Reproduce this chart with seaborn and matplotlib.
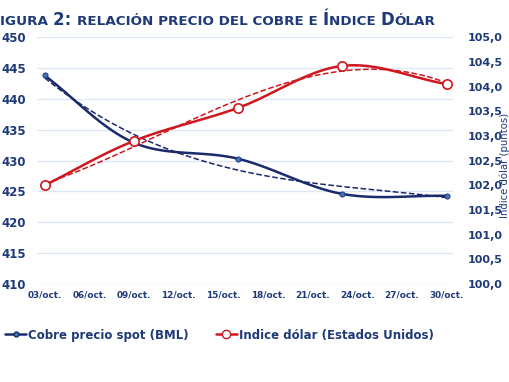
import numpy as np
import matplotlib
matplotlib.use('Agg')
import matplotlib.pyplot as plt
import matplotlib.transforms as mtransforms
from matplotlib.lines import Line2D
import seaborn as sns

# datos (dia de octubre)
dias = [3, 9, 16, 23, 30]
cobre = [443.8, 432.9, 430.3, 424.6, 424.3]
dolar = [102.0, 102.9, 103.57, 104.42, 104.05]
tick_dias = [3, 6, 9, 12, 15, 18, 21, 24, 27, 30]
tick_labels = ['03/oct.', '06/oct.', '09/oct.', '12/oct.', '15/oct.',
               '18/oct.', '21/oct.', '24/oct.', '27/oct.', '30/oct.']
left_ticks = [410, 415, 420, 425, 430, 435, 440, 445, 450]
right_ticks = [100.0, 100.5, 101.0, 101.5, 102.0, 102.5, 103.0, 103.5, 104.0, 104.5, 105.0]

NAVY = '#1b2a6b'
RED = '#d0161e'
TXT = '#1f3a78'
GRID = '#dde8f5'


def smooth(x, y, n=30):
    # curva suavizada tipo excel (catmull-rom)
    x = np.asarray(x, float)
    y = np.asarray(y, float)
    px = np.concatenate([[2 * x[0] - x[1]], x, [2 * x[-1] - x[-2]]])
    py = np.concatenate([[2 * y[0] - y[1]], y, [2 * y[-1] - y[-2]]])
    t = np.linspace(0, 1, n)
    xs, ys = [], []
    for i in range(1, len(px) - 2):
        for arr, out in ((px, xs), (py, ys)):
            p0, p1, p2, p3 = arr[i - 1:i + 3]
            out.extend(0.5 * (2 * p1 + (-p0 + p2) * t
                              + (2 * p0 - 5 * p1 + 4 * p2 - p3) * t ** 2
                              + (-p0 + 3 * p1 - 3 * p2 + p3) * t ** 3))
    return np.array(xs), np.array(ys)


sns.set_style('white')
fig = plt.figure(figsize=(5.1, 3.82), dpi=100)
ax = fig.add_axes([0.0725, 0.2565, 0.8155, 0.646])
ax2 = ax.twinx()

xt = np.linspace(dias[0], dias[-1], 100)

# cobre (linea suavizada + tendencia polinomica)
xs, ys = smooth(dias, cobre)
sns.lineplot(x=xt, y=np.polyval(np.polyfit(dias, cobre, 3), xt), ax=ax,
             color=NAVY, lw=1.1, linestyle='--', estimator=None, sort=False)
sns.lineplot(x=xs, y=ys, ax=ax, color=NAVY, lw=1.8, estimator=None, sort=False)
sns.scatterplot(x=dias, y=cobre, ax=ax, color='#3f74c0', edgecolor=NAVY,
                s=14, linewidth=0.6, zorder=5)

# dolar
xs2, ys2 = smooth(dias, dolar)
sns.lineplot(x=xt, y=np.polyval(np.polyfit(dias, dolar, 3), xt), ax=ax2,
             color=RED, lw=1.1, linestyle='--', estimator=None, sort=False)
sns.lineplot(x=xs2, y=ys2, ax=ax2, color=RED, lw=1.8, estimator=None, sort=False)
sns.scatterplot(x=dias, y=dolar, ax=ax2, color='white', edgecolor=RED,
                s=45, linewidth=1.2, zorder=5)

ax.set_xlim(2.48, 30.42)
ax.set_ylim(410, 450)
ax2.set_ylim(100, 105)
ax.set_yticks(left_ticks)
ax2.set_yticks(right_ticks)
ax.set_xticks(tick_dias)
ax.set_xticklabels(tick_labels)
ax2.set_yticklabels([f'{v:.1f}'.replace('.', ',') for v in right_ticks])

ax.yaxis.grid(True, color=GRID, lw=1)
ax.xaxis.grid(False)
ax2.grid(False)
for a in (ax, ax2):
    for sp in a.spines.values():
        sp.set_visible(False)
    a.tick_params(length=0, colors=TXT)
ax.tick_params(axis='y', labelsize=8.5, pad=8)
ax.tick_params(axis='x', labelsize=6.4, pad=5)
ax2.tick_params(axis='y', labelsize=8, pad=11)
for lab in ax.get_yticklabels() + ax.get_xticklabels() + ax2.get_yticklabels():
    lab.set_fontweight('bold')
ax.set_xlabel('')
ax.set_ylabel('')
ax2.set_ylabel('Indice dólar (puntos)', color=TXT, fontsize=7.3, labelpad=2)
ax2.yaxis.set_label_coords(1.113, 0.48)

# leyenda
handles = [Line2D([], [], color=NAVY, lw=1.8, marker='o', markersize=3.5,
                  markerfacecolor='#3f74c0', markeredgecolor=NAVY),
           Line2D([], [], color=RED, lw=1.8, marker='o', markersize=6,
                  markerfacecolor='white', markeredgecolor=RED)]
fig.legend(handles, ['Cobre precio spot (BML)', 'Indice dólar (Estados Unidos)'],
           loc='center left', bbox_to_anchor=(-0.002, 0.123), ncol=2, frameon=False,
           handlelength=1.8, handletextpad=0.15, columnspacing=2.3, borderpad=0,
           prop=dict(weight='bold', size=8.5), labelcolor=TXT)

# titulo en versalitas
fig.canvas.draw()
renderer = fig.canvas.get_renderer()
partes = [('IGURA ', 9.7), ('2: ', 12), ('RELACIÓN PRECIO DEL COBRE E ', 9.7),
          ('Í', 12), ('NDICE ', 9.7), ('D', 12), ('ÓLAR', 9.7)]
ident = mtransforms.IdentityTransform()
fig.text(0, 357, 'F', fontsize=12, fontweight='bold', color=TXT,
         transform=ident, ha='right', va='baseline')
x = 0.5
for s, size in partes:
    t = fig.text(x, 357, s, fontsize=size, fontweight='bold', color=TXT,
                 transform=ident, va='baseline')
    x = t.get_window_extent(renderer).x1

fig.savefig('out.png', dpi=100)
